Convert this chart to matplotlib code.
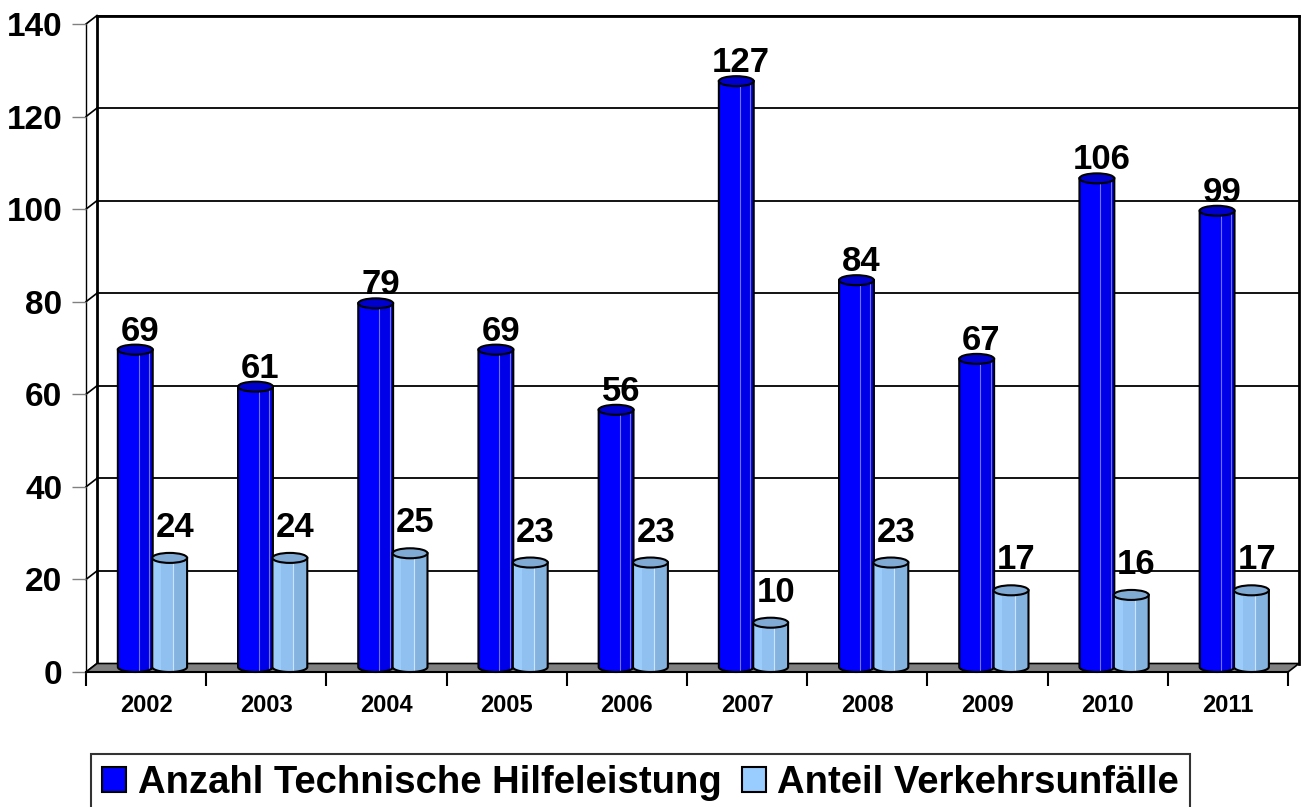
import numpy as np
import matplotlib.pyplot as plt
from matplotlib.patches import Polygon, Ellipse, Rectangle, Patch

# Daten
jahre = ['2002', '2003', '2004', '2005', '2006', '2007', '2008', '2009', '2010', '2011']
technische_hilfe = [69, 61, 79, 69, 56, 127, 84, 67, 106, 99]
verkehrsunfaelle = [24, 24, 25, 23, 23, 10, 23, 17, 16, 17]
y_ticks = [0, 20, 40, 60, 80, 100, 120, 140]
legende = ['Anzahl Technische Hilfeleistung', 'Anteil Verkehrsunfälle']

plt.rcParams['font.family'] = ['Liberation Sans', 'DejaVu Sans']
plt.rcParams['font.weight'] = 'bold'

fig = plt.figure(figsize=(13.03, 8.07), dpi=100)
ax = fig.add_axes([86 / 1303, 135 / 807, 1202 / 1303, 648 / 807])
ax.set_xlim(-0.5, 9.5)
ax.set_ylim(0, 140)
for s in ax.spines.values():
    s.set_visible(False)

# Pixel pro Dateneinheit
px_x = 1202 / 10
px_y = 648 / 140
dx = 11 / px_x
dy = 8.5 / px_y

# Rueckwand und Boden
for v in y_ticks[1:]:
    ax.plot([-0.5 + dx, 9.5 + dx], [v + dy, v + dy], color='black', lw=1.3, zorder=1, clip_on=False)
for v in y_ticks:
    ax.plot([-0.5, -0.5 + dx], [v, v + dy], color='black', lw=1.2, zorder=1, clip_on=False)
ax.plot([-0.5 + dx, -0.5 + dx], [dy, 140 + dy], color='black', lw=2, zorder=1, clip_on=False)
ax.plot([9.5 + dx, 9.5 + dx], [dy, 140 + dy], color='black', lw=2, zorder=1, clip_on=False)
ax.plot([-0.5 + dx, 9.5 + dx], [140 + dy, 140 + dy], color='black', lw=2, zorder=1, clip_on=False)
ax.plot([-0.5, -0.5], [0, 140], color='black', lw=1, zorder=1, clip_on=False)
boden = Polygon([(-0.5, 0), (9.5, 0), (9.5 + dx, dy), (-0.5 + dx, dy)],
                closed=True, facecolor='#808080', edgecolor='black', lw=1.2, zorder=2, clip_on=False)
ax.add_patch(boden)
ax.plot([-0.5, 9.5], [0, 0], color='black', lw=1.5, zorder=2, clip_on=False)


def zylinder(cx, wert, w, farbe, streifen, linie, deckel, z):
    eh = 10 / px_y
    y_oben = wert + 0.65
    y_unten = eh / 2
    t = np.linspace(np.pi, 2 * np.pi, 40)
    unten = np.column_stack([cx + w / 2 * np.cos(t), y_unten + eh / 2 * np.sin(t)])
    pts = [(cx - w / 2, y_oben)] + [tuple(p) for p in unten] + [(cx + w / 2, y_oben)]
    koerper = Polygon(pts, closed=True, facecolor=farbe, edgecolor='none', zorder=z, clip_on=False)
    ax.add_patch(koerper)
    for a, b, f in streifen:
        r = Rectangle((cx - w / 2 + a * w, 0), (b - a) * w, y_oben + 1,
                      facecolor=f, edgecolor='none', zorder=z + 0.1)
        ax.add_patch(r)
        r.set_clip_path(koerper)
    for a in linie:
        ln, = ax.plot([cx - w / 2 + a * w] * 2, [0, y_oben], color=linie[a], lw=0.8, zorder=z + 0.2)
        ln.set_clip_path(koerper)
    umriss = Polygon(pts, closed=True, facecolor='none', edgecolor='black', lw=1.5, zorder=z + 0.3, clip_on=False)
    ax.add_patch(umriss)
    ax.add_patch(Ellipse((cx, y_oben), w, eh, facecolor=deckel, edgecolor='black',
                         lw=1.5, zorder=z + 0.4, clip_on=False))


w = 0.29
x = np.arange(len(jahre))
for i in x:
    zylinder(i - 0.09, technische_hilfe[i], w, '#0000FF', [(0.6, 1.0, '#0000E8')],
             {0.6: '#7070FF', 0.9: '#7070FF'}, '#0000CC', 3)
    zylinder(i + 0.196, verkehrsunfaelle[i], w, '#9CCCFA',
             [(0.25, 0.6, '#90C0F0'), (0.6, 1.0, '#85B3E0')],
             {0.6: '#C8E4FF'}, '#80AAD4', 4)
    ax.text(i - 0.05, technische_hilfe[i] + 12 / px_y, str(technische_hilfe[i]),
            ha='center', va='baseline', fontsize=25, fontweight='bold', zorder=6)
    ax.text(i + 0.24, verkehrsunfaelle[i] + 24 / px_y, str(verkehrsunfaelle[i]),
            ha='center', va='baseline', fontsize=25, fontweight='bold', zorder=6)

# Achsen
ax.set_yticks(y_ticks)
ax.set_yticklabels([str(v) for v in y_ticks])
ax.tick_params(axis='y', length=10, color='gray', width=1, pad=7, labelsize=24)
ax.set_xticks(np.arange(-0.5, 10, 1))
ax.set_xticklabels([])
ax.set_xticks(x, minor=True)
ax.set_xticklabels(jahre, minor=True)
ax.tick_params(axis='x', which='major', length=10, width=1.5, color='black')
ax.tick_params(axis='x', which='minor', length=0, pad=16, labelsize=17)

# Legende
handles = [Patch(facecolor='#0000FF', edgecolor='black', lw=1.5, label=legende[0]),
           Patch(facecolor='#99CCFF', edgecolor='black', lw=1.5, label=legende[1])]
leg = fig.legend(handles=handles, loc='upper left', bbox_to_anchor=(91 / 1303, 1 - 754 / 807),
                 ncol=2, frameon=True, fancybox=False, edgecolor='black', fontsize=27.5,
                 handlelength=0.63, handleheight=0.6, handletextpad=0.31, columnspacing=0.52,
                 borderpad=0.29, borderaxespad=0)
leg.get_frame().set_linewidth(1.5)

fig.savefig('out.png', dpi=100)
